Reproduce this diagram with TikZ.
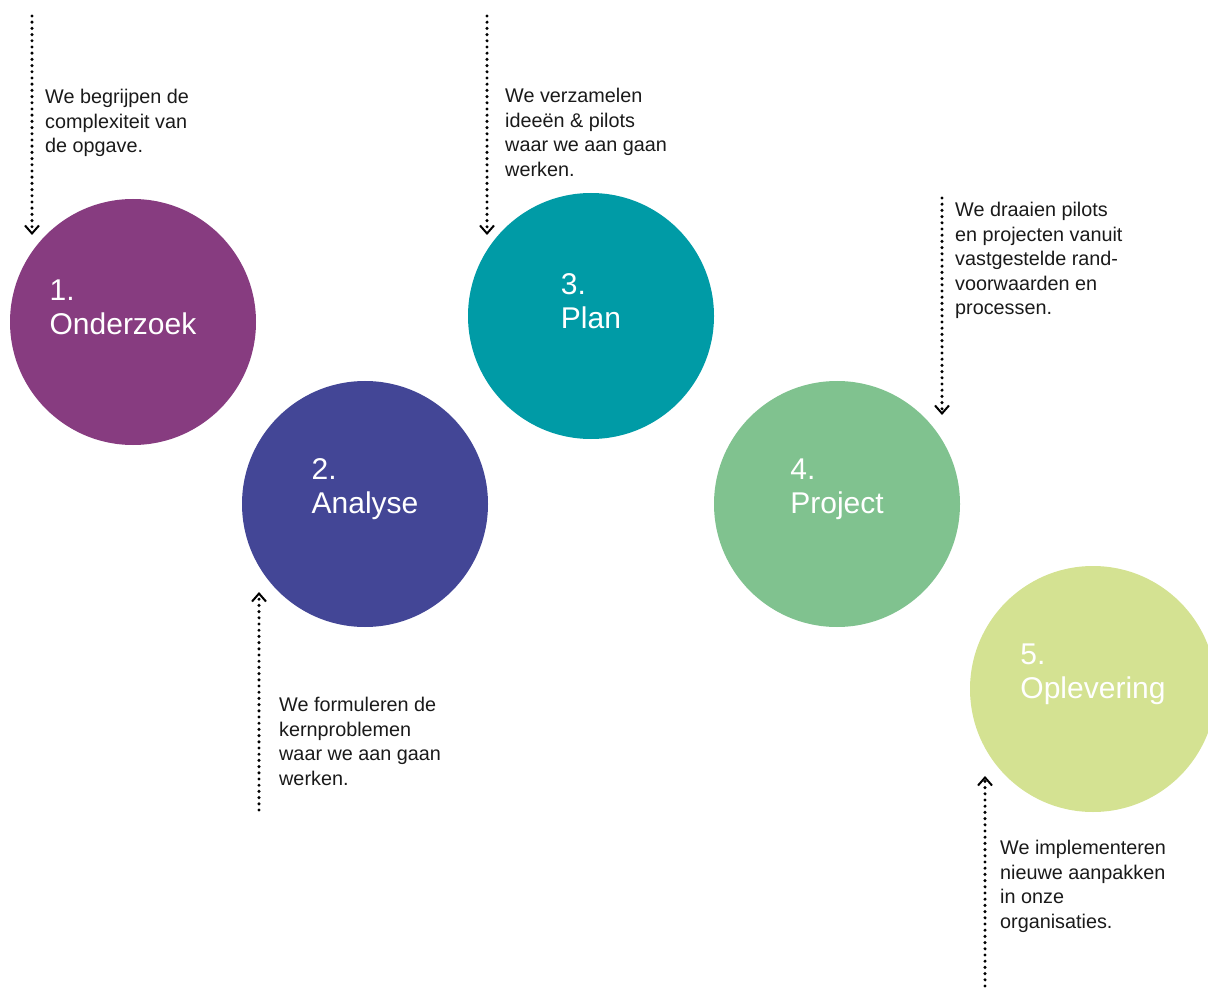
\documentclass[tikz,border=0pt]{standalone}
\usepackage{fontspec}
\setmainfont{Liberation Sans}
\usetikzlibrary{arrows.meta}

\definecolor{onderzoekColor}{HTML}{873C80}
\definecolor{analyseColor}{HTML}{434696}
\definecolor{planColor}{HTML}{009BA6}
\definecolor{projectColor}{HTML}{80C28F}
\definecolor{opleveringColor}{HTML}{D4E292}
\definecolor{noteText}{HTML}{1A1A1A}

\begin{document}
\begin{tikzpicture}[
        x=1pt, y=-1pt,
        phaseNode/.style={circle, minimum size=246pt, inner sep=0pt},
        phaseLabel/.style={align=left, text=white, inner sep=0pt, yshift=15pt, font=\fontsize{30}{34}\selectfont},
        noteNode/.style={anchor=north west, align=left, inner sep=0pt, text=noteText, font=\fontsize{19.8}{24.5}\selectfont},
        dotArrow/.style={line width=3.4pt, line cap=round, dash pattern=on 0pt off 6.2pt,
            -{Straight Barb[length=8pt, width=14pt, line width=2pt]}}
    ]
        \useasboundingbox (0,0) rectangle (1208,992);

        % Phase circles
        \node[phaseNode, fill=onderzoekColor] (onderzoek) at (133,322) {};
        \node[phaseNode, fill=analyseColor] (analyse) at (365,504) {};
        \node[phaseNode, fill=planColor] (plan) at (591,316) {};
        \node[phaseNode, fill=projectColor] (project) at (837,504) {};
        \node[phaseNode, fill=opleveringColor] (oplevering) at (1093,689) {};

        % Phase labels
        \node[phaseLabel, xshift=-10pt] (onderzoekLabel) at (onderzoek) {1.\\Onderzoek};
        \node[phaseLabel] (analyseLabel) at (analyse) {2.\\Analyse};
        \node[phaseLabel] (planLabel) at (plan) {3.\\Plan};
        \node[phaseLabel] (projectLabel) at (project) {4.\\Project};
        \node[phaseLabel] (opleveringLabel) at (oplevering) {5.\\Oplevering};

        % Notes
        \node[noteNode] (onderzoekNote) at (45,89) {We begrijpen de\\complexiteit van\\de opgave.};
        \node[noteNode] (analyseNote) at (279,697) {We formuleren de\\kernproblemen\\waar we aan gaan\\werken.};
        \node[noteNode] (planNote) at (505,88) {We verzamelen\\idee\"en \& pilots\\waar we aan gaan\\werken.};
        \node[noteNode] (projectNote) at (955,202) {We draaien pilots\\en projecten vanuit\\vastgestelde rand-\\voorwaarden en\\processen.};
        \node[noteNode] (opleveringNote) at (1000,840) {We implementeren\\nieuwe aanpakken\\in onze\\organisaties.};

        % Arrow ends
        \coordinate (onderzoekStart) at (32,16);
        \coordinate (onderzoekEnd) at (32,235);
        \coordinate (analyseStart) at (259,810);
        \coordinate (analyseEnd) at (259,592);
        \coordinate (planStart) at (487,16);
        \coordinate (planEnd) at (487,235);
        \coordinate (projectStart) at (942,198);
        \coordinate (projectEnd) at (942,415);
        \coordinate (opleveringStart) at (985,986);
        \coordinate (opleveringEnd) at (985,776);

        % Dotted arrows
        \draw[dotArrow] (onderzoekStart) -- (onderzoekEnd);
        \draw[dotArrow] (analyseStart) -- (analyseEnd);
        \draw[dotArrow] (planStart) -- (planEnd);
        \draw[dotArrow] (projectStart) -- (projectEnd);
        \draw[dotArrow] (opleveringStart) -- (opleveringEnd);
    \end{tikzpicture}
\end{document}
